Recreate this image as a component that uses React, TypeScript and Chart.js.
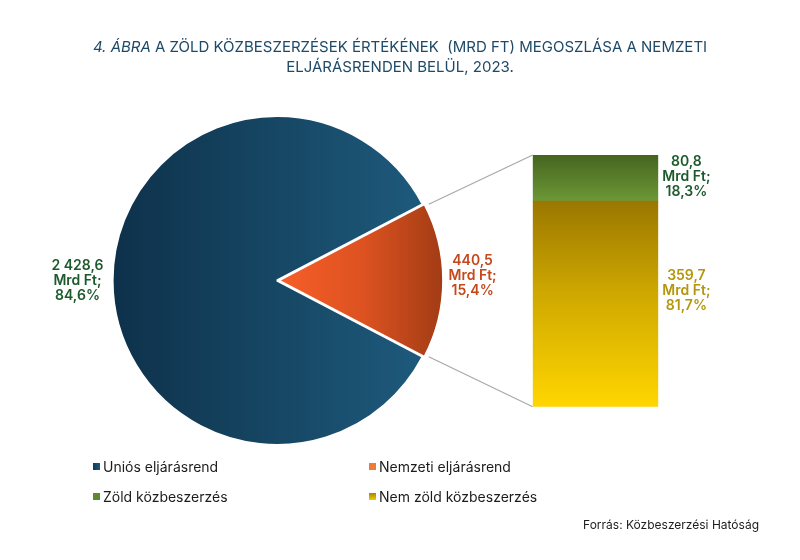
import { useEffect, useRef } from 'react';
import { Chart, registerables } from 'chart.js';

Chart.register(...registerables);

// pie: the two procurement regimes (Mrd Ft)
const pieLabels = ['Uniós eljárásrend', 'Nemzeti eljárásrend'];
const pieValues = [2428.6, 440.5];

// bar: split of the national regime (bottom first, then top)
const barLabels = ['Nem zöld közbeszerzés', 'Zöld közbeszerzés'];
const barValues = [359.7, 80.8];

const legendLabels = ['Uniós eljárásrend', 'Nemzeti eljárásrend', 'Zöld közbeszerzés', 'Nem zöld közbeszerzés'];
const legendSwatches = [
  'linear-gradient(90deg, #123a55, #1e5a7c)',
  '#ef7b3a',
  '#5b8a2f',
  'linear-gradient(180deg, #a88400, #f3cb00)',
];

const W = 800;
const H = 560;
const PIE_R = 164.5;
const SLICE_OFFSET = 6;
const FONT = 'Inter, "Noto Sans", sans-serif';
const LABEL_FONT = `600 14px ${FONT}`;

const fmt = (v: number) => {
  const [i, f] = v.toFixed(1).split('.');
  return i.replace(/\B(?=(\d{3})+(?!\d))/g, ' ') + ',' + f;
};

const drawLines = (ctx: CanvasRenderingContext2D, lines: string[], cx: number, cy: number, color: string) => {
  ctx.save();
  ctx.font = LABEL_FONT;
  ctx.fillStyle = color;
  ctx.textAlign = 'center';
  ctx.textBaseline = 'middle';
  const lh = 14.8;
  lines.forEach((l, k) => ctx.fillText(l, cx, cy + (k - (lines.length - 1) / 2) * lh));
  ctx.restore();
};

const maxWidth = (ctx: CanvasRenderingContext2D, lines: string[]) => {
  ctx.save();
  ctx.font = LABEL_FONT;
  const w = Math.max(...lines.map(l => ctx.measureText(l).width));
  ctx.restore();
  return w;
};

export default function App() {
  const pieRef = useRef<HTMLCanvasElement>(null);
  const barRef = useRef<HTMLCanvasElement>(null);

  useEffect(() => {
    if (!pieRef.current || !barRef.current) return;
    document.body.style.margin = '0';

    const total = pieValues.reduce((a, b) => a + b, 0);
    const f0 = pieValues[0] / total;
    const f1 = pieValues[1] / total;
    const rotation = 90 - f0 * 360 - f1 * 180;

    const pieLabelColors = ['#1c5a2c', '#c4481c'];
    const pieGaps = [9, 1];
    const pieNudge = [0, -5];

    const pieLabelPlugin = {
      id: 'pieLabels',
      afterDatasetsDraw(chart: Chart) {
        const { ctx } = chart;
        const arcs = chart.getDatasetMeta(0).data as any[];
        arcs.forEach((arc, i) => {
          const { x, y, startAngle, endAngle, outerRadius } = arc.getProps(['x', 'y', 'startAngle', 'endAngle', 'outerRadius'], true);
          const off = arc.options.offset || 0;
          const mid = (startAngle + endAngle) / 2;
          const lines = [fmt(pieValues[i]), 'Mrd Ft;', (pieValues[i] / total * 100).toFixed(1).replace('.', ',') + '%'];
          const d = outerRadius + off + pieGaps[i] + maxWidth(ctx, lines) / 2;
          drawLines(ctx, lines, x + Math.cos(mid) * d, y + Math.sin(mid) * d + pieNudge[i], pieLabelColors[i]);
        });
      },
    };

    const pie = new Chart(pieRef.current, {
      type: 'pie',
      data: {
        labels: pieLabels,
        datasets: [
          {
            data: pieValues,
            radius: PIE_R,
            offset: [0, SLICE_OFFSET],
            borderColor: '#ffffff',
            borderWidth: 2.2,
            backgroundColor: (c: any) => {
              const area = c.chart.chartArea;
              const fallback = c.dataIndex === 0 ? '#174a68' : '#d9501f';
              if (!area || !isFinite(area.left) || !isFinite(area.right)) return fallback;
              const cx = (area.left + area.right) / 2;
              const g = c.chart.ctx.createLinearGradient(
                c.dataIndex === 0 ? cx - PIE_R : cx,
                0,
                cx + PIE_R + (c.dataIndex === 0 ? 0 : SLICE_OFFSET),
                0,
              );
              if (c.dataIndex === 0) {
                g.addColorStop(0, '#0e314b');
                g.addColorStop(0.5, '#164764');
                g.addColorStop(1, '#1f5c7f');
              } else {
                g.addColorStop(0, '#f75e29');
                g.addColorStop(0.5, '#dc5220');
                g.addColorStop(1, '#9e3a14');
              }
              return g;
            },
          },
        ],
      },
      options: {
        responsive: false,
        animation: false,
        rotation,
        layout: { padding: { left: 0, right: W - 554, top: 1, bottom: 0 } },
        plugins: { legend: { display: false }, tooltip: { enabled: false } },
      },
      plugins: [pieLabelPlugin],
    });

    const barTotal = barValues.reduce((a, b) => a + b, 0);
    const barLabelColors = ['#b5960c', '#1c5a2c'];
    const barNudge = [-13, -1];

    const barExtras = {
      id: 'barExtras',
      afterDatasetsDraw(chart: Chart) {
        const { ctx } = chart;
        // connector lines from the pie slice to the bar
        const arc = pie.getDatasetMeta(0).data[1] as any;
        const { x, y, startAngle, endAngle, outerRadius } = arc.getProps(['x', 'y', 'startAngle', 'endAngle', 'outerRadius'], true);
        const off = arc.options.offset || 0;
        const mid = (startAngle + endAngle) / 2;
        const ox = x + Math.cos(mid) * off;
        const oy = y + Math.sin(mid) * off;
        const topEl = chart.getDatasetMeta(1).data[0] as any;
        const botEl = chart.getDatasetMeta(0).data[0] as any;
        const left = topEl.x - topEl.width / 2;
        ctx.save();
        ctx.strokeStyle = '#a8a8a8';
        ctx.lineWidth = 1.2;
        ctx.beginPath();
        ctx.moveTo(ox + Math.cos(startAngle) * outerRadius, oy + Math.sin(startAngle) * outerRadius);
        ctx.lineTo(left, topEl.y);
        ctx.moveTo(ox + Math.cos(endAngle) * outerRadius, oy + Math.sin(endAngle) * outerRadius);
        ctx.lineTo(left, botEl.base);
        ctx.stroke();
        ctx.restore();

        // value labels right of each segment
        barValues.forEach((v, i) => {
          const el = chart.getDatasetMeta(i).data[0] as any;
          const lines = [fmt(v), 'Mrd Ft;', (v / barTotal * 100).toFixed(1).replace('.', ',') + '%'];
          const cx = el.x + el.width / 2 + 4 + maxWidth(ctx, lines) / 2;
          drawLines(ctx, lines, cx, (el.y + el.base) / 2 + barNudge[i], barLabelColors[i]);
        });
      },
    };

    const bar = new Chart(barRef.current, {
      type: 'bar',
      data: {
        labels: ['Nemzeti eljárásrend'],
        datasets: barLabels.map((label, i) => ({
          label,
          data: [barValues[i]],
          borderWidth: 0,
          barPercentage: 1,
          categoryPercentage: 1,
          backgroundColor: (c: any) => {
            const fallback = i === 0 ? '#d4ac00' : '#5b8a2f';
            const ys = c.chart.scales.y;
            if (!ys) return fallback;
            const lo = barValues.slice(0, i).reduce((a, b) => a + b, 0);
            const hi = lo + barValues[i];
            const y0 = ys.getPixelForValue(hi);
            const y1 = ys.getPixelForValue(lo);
            if (!isFinite(y0) || !isFinite(y1) || y0 === y1) return fallback;
            const g = c.chart.ctx.createLinearGradient(0, y0, 0, y1);
            if (i === 0) {
              g.addColorStop(0, '#9a7700');
              g.addColorStop(0.45, '#cfa800');
              g.addColorStop(1, '#ffd600');
            } else {
              g.addColorStop(0, '#45641f');
              g.addColorStop(1, '#6d9837');
            }
            return g;
          },
        })),
      },
      options: {
        responsive: false,
        animation: false,
        layout: { padding: { left: 532.7, right: W - 658.3, top: 155, bottom: H - 406.7 } },
        scales: {
          x: { display: false, stacked: true },
          y: { display: false, stacked: true, min: 0, max: barTotal },
        },
        plugins: { legend: { display: false }, tooltip: { enabled: false } },
      },
      plugins: [barExtras],
    });

    return () => {
      bar.destroy();
      pie.destroy();
    };
  }, []);

  const legendPos = [
    { left: 93, top: 466 },
    { left: 369, top: 466 },
    { left: 93, top: 496 },
    { left: 369, top: 496 },
  ];

  return (
    <div style={{ position: 'absolute', left: 0, top: 0, width: W, height: H, background: '#fff', fontFamily: FONT }}>
      <canvas ref={pieRef} width={W} height={H} style={{ position: 'absolute', left: 0, top: 0 }} />
      <canvas ref={barRef} width={W} height={H} style={{ position: 'absolute', left: 0, top: 0 }} />
      <div
        style={{
          position: 'absolute',
          left: 0,
          top: 37,
          width: W,
          textAlign: 'center',
          fontSize: 15,
          lineHeight: '20px',
          color: '#1e4a68',
          whiteSpace: 'pre',
        }}
      >
        <span style={{ fontStyle: 'italic' }}>4. ÁBRA</span>
        {' A ZÖLD KÖZBESZERZÉSEK ÉRTÉKÉNEK  (MRD FT) MEGOSZLÁSA A NEMZETI\nELJÁRÁSRENDEN BELÜL, 2023.'}
      </div>
      {legendLabels.map((label, i) => (
        <div
          key={label}
          style={{
            position: 'absolute',
            left: legendPos[i].left,
            top: legendPos[i].top - 9,
            height: 18,
            display: 'flex',
            alignItems: 'center',
            fontSize: 14,
            color: '#1c1c1c',
          }}
        >
          <span style={{ width: 7, height: 7, background: legendSwatches[i], marginRight: 3 }} />
          {label}
        </div>
      ))}
      <div style={{ position: 'absolute', right: 41, top: 517, fontSize: 12, color: '#1c1c1c' }}>
        Forrás: Közbeszerzési Hatóság
      </div>
    </div>
  );
}
